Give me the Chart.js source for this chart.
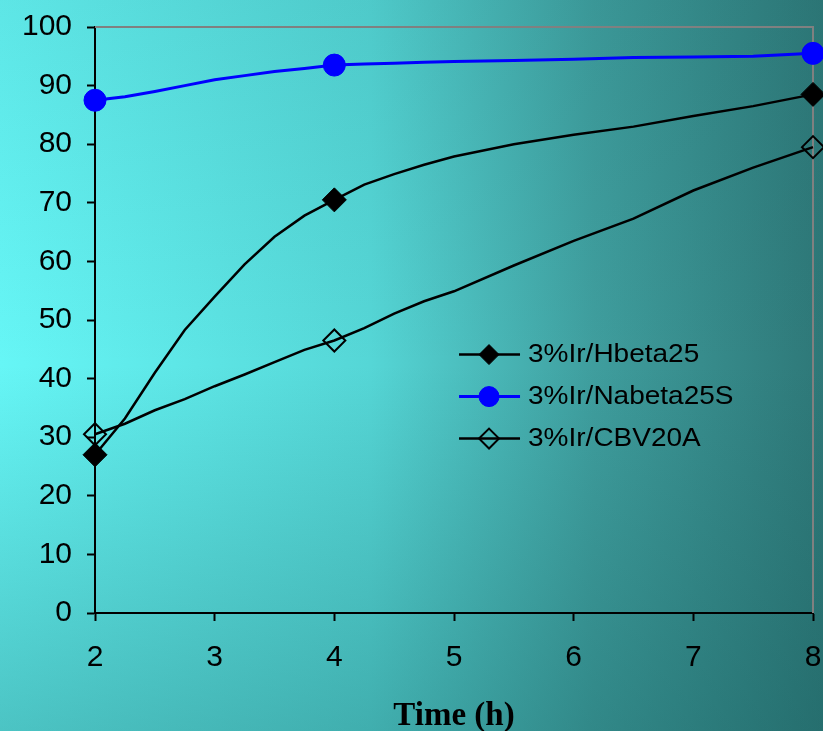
<!DOCTYPE html>
<html>
<head>
<meta charset="utf-8">
<script src="https://cdn.jsdelivr.net/npm/chart.js@4.4.0/dist/chart.umd.min.js"></script>
<style>
  html, body { margin: 0; padding: 0; background: #2e7878; }
</style>
</head>
<body>
<canvas id="grafico" width="823" height="731"></canvas>
<script>
// Dados do gráfico (tempo em horas, curva lida em passos; marcadores só nos ensaios)
const tempos = [2, 2.25, 2.5, 2.75, 3, 3.25, 3.5, 3.75, 4, 4.25, 4.5, 4.75, 5, 5.5, 6, 6.5, 7, 7.5, 8];
const temposMarcados = [2, 4, 8];
const nomesSeries = ['3%Ir/Hbeta25', '3%Ir/Nabeta25S', '3%Ir/CBV20A'];
const hbeta25 = [27, 33.2, 41, 48.3, 54, 59.5, 64.2, 67.8, 70.5, 73.1, 74.9, 76.5, 77.9, 80.0, 81.6, 83.0, 84.8, 86.5, 88.5];
const nabeta25S = [87.5, 88.1, 89.0, 90.0, 91.0, 91.7, 92.4, 92.9, 93.5, 93.7, 93.8, 94.0, 94.1, 94.3, 94.5, 94.8, 94.9, 95.0, 95.5];
const cbv20A = [30.5, 32.3, 34.6, 36.5, 38.7, 40.7, 42.8, 44.9, 46.5, 48.6, 51.1, 53.2, 54.9, 59.3, 63.5, 67.3, 72.1, 76.0, 79.5];
const ticksX = [2, 3, 4, 5, 6, 7, 8];
const ticksY = [0, 10, 20, 30, 40, 50, 60, 70, 80, 90, 100];

// Monta os pontos {x, y} de cada série
function pontos(valores) {
    return tempos.map((t, i) => ({ x: t, y: valores[i] }));
}

// Raio do marcador: só aparece nos tempos marcados
function raio(r) {
    return (c) => (c.raw && temposMarcados.includes(c.raw.x)) ? r : 0;
}

// Fundo em degradê (ciano à esquerda, verde-azulado escuro à direita)
const fundoPlugin = {
    id: 'fundo',
    beforeDraw(chart) {
        const ctx = chart.ctx;
        const w = chart.width, h = chart.height;
        ctx.save();
        let g = ctx.createLinearGradient(0, 0, w, 0);
        g.addColorStop(0, '#66f6f6');
        g.addColorStop(0.45, '#55d6d6');
        g.addColorStop(0.72, '#3f9e9e');
        g.addColorStop(1, '#2e7878');
        ctx.fillStyle = g;
        ctx.fillRect(0, 0, w, h);
        let v = ctx.createLinearGradient(0, 0, 0, h);
        v.addColorStop(0, 'rgba(20,90,90,0.10)');
        v.addColorStop(0.5, 'rgba(20,90,90,0)');
        v.addColorStop(1, 'rgba(20,90,90,0.32)');
        ctx.fillStyle = v;
        ctx.fillRect(0, 0, w, h);
        ctx.restore();
    },
    // Borda cinza no topo e à direita da área do gráfico
    beforeDatasetsDraw(chart) {
        const { ctx, chartArea } = chart;
        ctx.save();
        ctx.strokeStyle = '#808080';
        ctx.lineWidth = 2;
        ctx.beginPath();
        ctx.moveTo(chartArea.left, chartArea.top);
        ctx.lineTo(chartArea.right, chartArea.top);
        ctx.lineTo(chartArea.right, chartArea.bottom);
        ctx.stroke();
        ctx.restore();
    }
};

// Legenda desenhada à mão: linha com o marcador no meio
const legendaPlugin = {
    id: 'legenda',
    afterDatasetsDraw(chart) {
        const { ctx, chartArea } = chart;
        const x0 = chartArea.left + 0.507 * (chartArea.right - chartArea.left);
        const y0 = chartArea.top + 0.559 * (chartArea.bottom - chartArea.top);
        const passo = 42;
        ctx.save();
        chart.data.datasets.forEach((ds, i) => {
            const y = y0 + i * passo;
            ctx.strokeStyle = ds.borderColor;
            ctx.lineWidth = ds.borderWidth;
            ctx.beginPath();
            ctx.moveTo(x0, y);
            ctx.lineTo(x0 + 61, y);
            ctx.stroke();
            ctx.fillStyle = ds.pointBackgroundColor;
            ctx.strokeStyle = ds.pointBorderColor;
            ctx.lineWidth = ds.pointBorderWidth;
            Chart.helpers.drawPoint(ctx, {
                pointStyle: ds.pointStyle,
                radius: 10,
                rotation: 0,
                borderWidth: ds.pointBorderWidth
            }, x0 + 30, y);
            ctx.save();
            ctx.translate(x0 + 69, y + 1);
            ctx.scale(1.12, 1);
            ctx.fillStyle = '#000';
            ctx.font = '25px "Liberation Sans", Arial, sans-serif';
            ctx.textBaseline = 'middle';
            ctx.textAlign = 'left';
            ctx.fillText(ds.label, 0, 0);
            ctx.restore();
        });
        ctx.restore();
    }
};

// Tira o recuo automático que os rótulos das pontas dão à área do gráfico
function semRecuo(scale) {
    scale.paddingLeft = 0;
    scale.paddingRight = 0;
    scale.paddingTop = 0;
    scale.paddingBottom = 0;
}

const fonteTicks = { family: '"Liberation Sans", Arial, sans-serif', size: 30 };

const ctx = document.getElementById('grafico').getContext('2d');
new Chart(ctx, {
    type: 'line',
    data: {
        datasets: [
            {
                label: nomesSeries[0],
                data: pontos(hbeta25),
                borderColor: '#000000',
                borderWidth: 2.5,
                pointStyle: 'rectRot',
                pointRadius: raio(12),
                pointBackgroundColor: '#000000',
                pointBorderColor: '#000000',
                pointBorderWidth: 1,
                tension: 0
            },
            {
                label: nomesSeries[1],
                data: pontos(nabeta25S),
                borderColor: '#0000ff',
                borderWidth: 3,
                pointStyle: 'circle',
                pointRadius: raio(11),
                pointBackgroundColor: '#0000ff',
                pointBorderColor: '#0000ff',
                pointBorderWidth: 1,
                tension: 0
            },
            {
                label: nomesSeries[2],
                data: pontos(cbv20A),
                borderColor: '#000000',
                borderWidth: 2.5,
                pointStyle: 'rectRot',
                pointRadius: raio(11),
                pointBackgroundColor: 'rgba(0,0,0,0)',
                pointBorderColor: '#000000',
                pointBorderWidth: 2,
                tension: 0
            }
        ]
    },
    options: {
        responsive: false,
        animation: false,
        clip: false,
        layout: { autoPadding: false, padding: { top: 27, right: 10, left: 0, bottom: 0 } },
        plugins: {
            legend: { display: false },
            tooltip: { enabled: false }
        },
        scales: {
            x: {
                type: 'linear',
                min: 2,
                max: 8,
                afterBuildTicks(scale) { scale.ticks = ticksX.map(v => ({ value: v })); },
                afterFit(scale) { scale.height = 118; semRecuo(scale); },
                border: { color: '#000', width: 2 },
                grid: { drawOnChartArea: false, tickLength: 8, tickColor: '#000', tickWidth: 2 },
                ticks: { color: '#000', font: fonteTicks, padding: 19, maxRotation: 0 },
                title: {
                    display: true,
                    text: 'Time (h)',
                    color: '#000',
                    font: { family: '"Liberation Serif", "Times New Roman", serif', size: 33, weight: 'bold', lineHeight: 1 },
                    padding: { top: 0, bottom: -2 }
                }
            },
            y: {
                min: 0,
                max: 100,
                afterBuildTicks(scale) { scale.ticks = ticksY.map(v => ({ value: v })); },
                afterFit(scale) { scale.width = 95; semRecuo(scale); },
                border: { color: '#000', width: 2 },
                grid: { drawOnChartArea: false, tickLength: 8, tickColor: '#000', tickWidth: 2 },
                ticks: { color: '#000', font: fonteTicks, padding: 15 }
            }
        }
    },
    plugins: [fundoPlugin, legendaPlugin]
});
</script>
</body>
</html>
